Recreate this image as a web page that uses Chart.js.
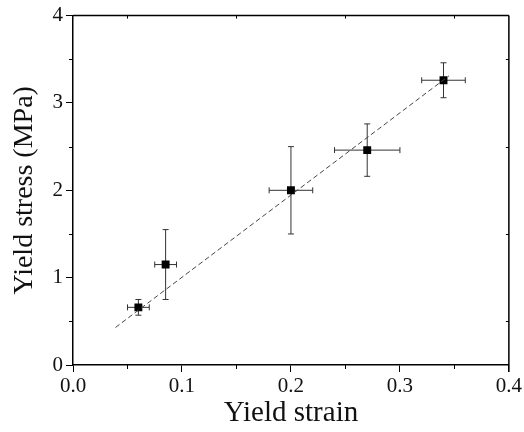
<!DOCTYPE html>
<html>
<head>
<meta charset="utf-8">
<script src="https://cdn.jsdelivr.net/npm/chart.js@4"></script>
<style>
  html, body { margin: 0; padding: 0; background: #fff; }
  canvas { display: block; }
</style>
</head>
<body>
<canvas id="myChart" width="524" height="432"></canvas>
<script>
// Measured yield points with their error ranges
const strain = [0.06, 0.085, 0.2, 0.27, 0.34];
const stress = [0.66, 1.15, 2.0, 2.46, 3.26];
const strainErr = [0.01, 0.01, 0.02, 0.03, 0.02];
const stressErr = [0.09, 0.4, 0.5, 0.3, 0.2];

// Linear fit drawn as a dashed line
const fitX = [0.039, 0.345];
const fitY = [0.43, 3.31];

const xTicks = [0, 0.1, 0.2, 0.3, 0.4];
const yTicks = [0, 1, 2, 3, 4];

const serif = '"Liberation Serif", "Times New Roman", serif';

// Error bars under the markers
const errorBars = {
    id: 'errorBars',
    beforeDatasetsDraw(chart) {
        const ctx = chart.ctx;
        const xs = chart.scales.x, ys = chart.scales.y;
        const cap = 3;
        ctx.save();
        ctx.strokeStyle = '#333';
        ctx.lineWidth = 1;
        strain.forEach((sx, i) => {
            const px = xs.getPixelForValue(sx);
            const py = ys.getPixelForValue(stress[i]);
            const top = ys.getPixelForValue(stress[i] + stressErr[i]);
            const bot = ys.getPixelForValue(stress[i] - stressErr[i]);
            const lft = xs.getPixelForValue(sx - strainErr[i]);
            const rgt = xs.getPixelForValue(sx + strainErr[i]);
            ctx.beginPath();
            ctx.moveTo(px, top); ctx.lineTo(px, bot);
            ctx.moveTo(px - cap, top); ctx.lineTo(px + cap, top);
            ctx.moveTo(px - cap, bot); ctx.lineTo(px + cap, bot);
            ctx.moveTo(lft, py); ctx.lineTo(rgt, py);
            ctx.moveTo(lft, py - cap); ctx.lineTo(lft, py + cap);
            ctx.moveTo(rgt, py - cap); ctx.lineTo(rgt, py + cap);
            ctx.stroke();
        });
        ctx.restore();
    }
};

// Top/right frame lines and the minor ticks
const frame = {
    id: 'frame',
    afterDraw(chart) {
        const ctx = chart.ctx;
        const a = chart.chartArea;
        const xs = chart.scales.x, ys = chart.scales.y;
        ctx.save();
        ctx.strokeStyle = '#000';
        ctx.lineWidth = 1.5;
        ctx.beginPath();
        ctx.moveTo(a.left, a.top); ctx.lineTo(a.right, a.top);
        ctx.moveTo(a.right, a.top); ctx.lineTo(a.right, a.bottom + 7);
        ctx.stroke();

        ctx.lineWidth = 1;
        ctx.beginPath();
        for (let v = 0.05; v < 0.4; v += 0.1) {
            const px = Math.round(xs.getPixelForValue(v)) + 0.5;
            ctx.moveTo(px, a.bottom); ctx.lineTo(px, a.bottom + 4);
            ctx.moveTo(px, a.top); ctx.lineTo(px, a.top + 3);
        }
        for (let v = 0.5; v < 4; v += 1) {
            const py = Math.round(ys.getPixelForValue(v)) + 0.5;
            ctx.moveTo(a.left, py); ctx.lineTo(a.left - 4, py);
            ctx.moveTo(a.right, py); ctx.lineTo(a.right - 3, py);
        }
        ctx.stroke();
        ctx.restore();
    }
};

const ctx = document.getElementById('myChart').getContext('2d');
new Chart(ctx, {
    type: 'scatter',
    data: {
        datasets: [
            {
                label: 'Fit',
                data: fitX.map((x, i) => ({ x: x, y: fitY[i] })),
                showLine: true,
                borderColor: '#444',
                borderWidth: 1,
                borderDash: [5, 3],
                pointRadius: 0,
                fill: false
            },
            {
                label: 'Yield',
                data: strain.map((x, i) => ({ x: x, y: stress[i] })),
                pointStyle: 'rect',
                pointRadius: 5.6,
                backgroundColor: '#000',
                borderColor: '#000',
                borderWidth: 0
            }
        ]
    },
    options: {
        responsive: false,
        animation: false,
        devicePixelRatio: 1,
        layout: { padding: { top: 13, right: 14, left: 0, bottom: 0 } },
        plugins: {
            legend: { display: false },
            tooltip: { enabled: false }
        },
        scales: {
            x: {
                type: 'linear',
                min: 0,
                max: 0.4,
                afterBuildTicks: s => { s.ticks = xTicks.map(v => ({ value: v })); },
                afterFit: s => { s.height = 67; },
                grid: { drawOnChartArea: false, drawTicks: true, tickLength: 7, tickColor: '#000', tickWidth: 1 },
                border: { color: '#000', width: 1.5 },
                ticks: {
                    color: '#111',
                    padding: 2,
                    maxRotation: 0,
                    font: { family: serif, size: 21 },
                    callback: v => v.toFixed(1)
                },
                title: {
                    display: true,
                    text: 'Yield strain',
                    color: '#111',
                    font: { family: serif, size: 29 },
                    padding: { top: 0, bottom: 1 }
                }
            },
            y: {
                type: 'linear',
                min: 0,
                max: 4,
                afterBuildTicks: s => { s.ticks = yTicks.map(v => ({ value: v })); },
                afterFit: s => { s.width = 73; },
                grid: { drawOnChartArea: false, drawTicks: true, tickLength: 7, tickColor: '#000', tickWidth: 1 },
                border: { color: '#000', width: 1.5 },
                ticks: {
                    color: '#111',
                    padding: 3,
                    font: { family: serif, size: 21 },
                    callback: v => String(v)
                },
                title: {
                    display: true,
                    text: 'Yield stress (MPa)',
                    color: '#111',
                    font: { family: serif, size: 28 },
                    padding: { top: 8, bottom: 0 }
                }
            }
        }
    },
    plugins: [errorBars, frame]
});
</script>
</body>
</html>
